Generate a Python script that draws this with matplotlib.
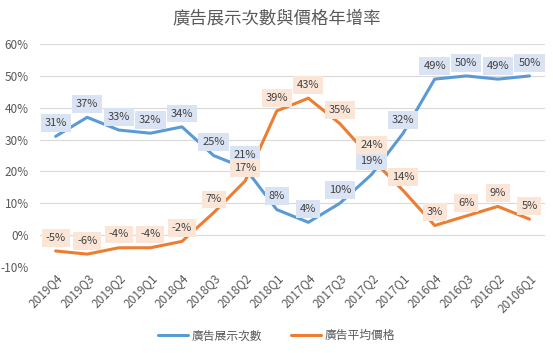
import matplotlib
matplotlib.use("Agg")
import matplotlib.pyplot as plt
import numpy as np

plt.rcParams['font.family'] = ['Noto Sans CJK TC', 'DejaVu Sans']

quarters = ['2019Q4', '2019Q3', '2019Q2', '2019Q1', '2018Q4', '2018Q3', '2018Q2', '2018Q1',
            '2017Q4', '2017Q3', '2017Q2', '2017Q1', '2016Q4', '2016Q3', '2016Q2', '20106Q1']
impressions = [31, 37, 33, 32, 34, 25, 21, 8, 4, 10, 19, 32, 49, 50, 49, 50]
price = [-5, -6, -4, -4, -2, 7, 17, 39, 43, 35, 24, 14, 3, 6, 9, 5]

blue = '#5b9bd5'
orange = '#ed7d31'
gray = '#595959'

fig = plt.figure(figsize=(5.53, 3.53), dpi=100)
ax = fig.add_axes([0.072, 0.244, 0.914, 0.631])

x = np.arange(len(quarters))
ax.plot(x, impressions, color=blue, lw=2.2, label='廣告展示次數', solid_capstyle='round')
ax.plot(x, price, color=orange, lw=2.2, label='廣告平均價格', solid_capstyle='round')

# 데이터 라벨 (점 위에 박스)
for xi, v in zip(x, impressions):
    ax.annotate(f'{v}%', (xi, v), xytext=(0, 6), textcoords='offset points', ha='center', va='bottom',
                fontsize=8, color='#404040',
                bbox=dict(boxstyle='square,pad=0.35', fc='#dae3f3', ec='none'))
for xi, v in zip(x, price):
    ax.annotate(f'{v}%', (xi, v), xytext=(0, 6), textcoords='offset points', ha='center', va='bottom',
                fontsize=8, color='#404040',
                bbox=dict(boxstyle='square,pad=0.35', fc='#fbe5d6', ec='none'))

ax.set_xlim(-0.5, len(quarters) - 0.5)
ax.set_ylim(-10, 60)
ax.set_yticks(range(-10, 61, 10))
ax.set_yticklabels([f'{t}%' for t in range(-10, 61, 10)])
ax.set_xticks(x)
ax.set_xticklabels(quarters, rotation=45, ha='right', rotation_mode='anchor')
ax.tick_params(length=0, labelsize=8.5, colors=gray)
ax.tick_params(axis='y', pad=8)
ax.grid(axis='y', color='#d9d9d9', lw=0.8)
ax.set_axisbelow(True)
for s in ax.spines.values():
    s.set_visible(False)

fig.suptitle('廣告展示次數與價格年增率', y=0.975, fontsize=12.5, color=gray)
fig.legend(loc='lower center', bbox_to_anchor=(0.5, 0.0), ncol=2, frameon=False,
           fontsize=8.5, labelcolor=gray, handlelength=2.5, handletextpad=0.3, columnspacing=2.5)

fig.savefig('out.png', dpi=100)
